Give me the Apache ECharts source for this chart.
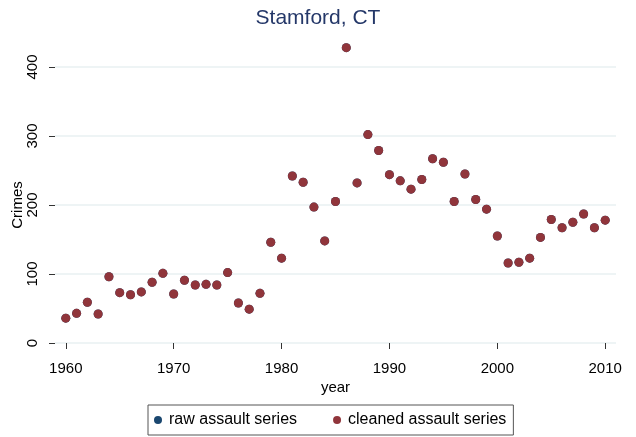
<!DOCTYPE html>
<html>
<head>
<meta charset="utf-8">
<script src="https://cdn.jsdelivr.net/npm/echarts@6/dist/echarts.min.js"></script>
<style>html,body{margin:0;padding:0;background:#fff;}#c{width:636px;height:437px;}</style>
</head>
<body>
<div id="c"></div>
<script>
const years = [1960,1961,1962,1963,1964,1965,1966,1967,1968,1969,1970,1971,1972,1973,1974,1975,1976,1977,1978,1979,1980,1981,1982,1983,1984,1985,1986,1987,1988,1989,1990,1991,1992,1993,1994,1995,1996,1997,1998,1999,2000,2001,2002,2003,2004,2005,2006,2007,2008,2009,2010];
const cleaned = [36,43,59,42,96,73,70,74,88,101,71,91,84,85,84,102,58,49,72,146,123,242,233,197,148,205,428,232,302,279,244,235,223,237,267,262,205,245,208,194,155,116,117,123,153,179,167,175,187,167,178];
const raw = [36,43,59,42,96,73,70,74,88,101,71,91,84,85,84,102,58,49,72,146,123,242,233,197,148,205,428,232,302,279,244,235,223,237,267,262,205,245,208,194,155,116,117,123,153,179,167,175,187,167,178];
const xTicks = [1960,1970,1980,1990,2000,2010];
const seriesNames = ['raw assault series','cleaned assault series'];
const titleText = 'Stamford, CT';

const font = 'Liberation Sans, Arial, Helvetica, sans-serif';
const chart = echarts.init(document.getElementById('c'), null, {renderer:'canvas'});
chart.setOption({
  animation:false,
  backgroundColor:'#ffffff',
  textStyle:{fontFamily:font},
  title:{text:titleText,left:'center',top:8,padding:0,
    textStyle:{fontFamily:font,fontSize:21,fontWeight:'normal',color:'#253869'}},
  grid:{left:55,right:20,top:67,bottom:94,containLabel:false,outerBoundsMode:'none'},
  legend:{
    left:148,top:405,
    padding:[7,7,7,6],
    borderColor:'#555',borderWidth:1,borderRadius:0,
    itemWidth:12,itemHeight:8,itemGap:36,
    icon:'circle',
    itemStyle:{opacity:1},
    textStyle:{fontFamily:font,fontSize:16,color:'#000'},
    data:seriesNames
  },
  xAxis:{
    type:'value',min:1959,max:2011,offset:10,
    name:'year',nameLocation:'middle',nameGap:27,nameMoveOverlap:false,
    nameTextStyle:{fontFamily:font,fontSize:15,color:'#000'},
    axisLine:{show:false},
    axisTick:{show:true,length:6,customValues:xTicks,lineStyle:{color:'#333'}},
    axisLabel:{customValues:xTicks,margin:8,fontSize:15,color:'#000',fontFamily:font,
      formatter:function(v){return String(v);}},
    splitLine:{show:false}
  },
  yAxis:{
    type:'value',min:0,max:400,interval:100,
    name:'Crimes',nameLocation:'middle',nameGap:30,nameRotate:90,nameMoveOverlap:false,
    nameTextStyle:{fontFamily:font,fontSize:15,color:'#000'},
    axisLine:{show:false},
    axisTick:{show:true,length:6,lineStyle:{color:'#333'}},
    axisLabel:{rotate:90,margin:15,fontSize:15,color:'#000',fontFamily:font},
    splitLine:{show:true,lineStyle:{color:'#e8f0f2',width:1.5}}
  },
  series:[
    {name:seriesNames[0],type:'scatter',clip:false,symbolSize:9,
     itemStyle:{color:'#1a476f',opacity:1},
     data:years.map((y,i)=>[y,raw[i]])},
    {name:seriesNames[1],type:'scatter',clip:false,symbolSize:9,
     itemStyle:{color:'#90353b',opacity:1},
     data:years.map((y,i)=>[y,cleaned[i]])}
  ]
});
</script>
</body>
</html>
